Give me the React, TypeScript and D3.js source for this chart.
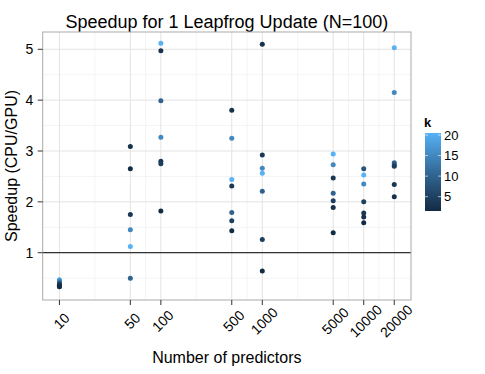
import React from 'react'
import * as d3 from 'd3'

// predictors (x) and one entry per k value
const predictors = [10, 50, 100, 500, 1000, 5000, 10000, 20000]
const kValues = [
  [20, 15, 10, 5, 4, 3, 2],
  [3, 2, 4, 15, 20, 10],
  [20, 3, 10, 15, 4, 5, 2],
  [3, 15, 20, 4, 10, 5, 2],
  [3, 4, 15, 20, 10, 5, 2],
  [20, 15, 4, 10, 5, 3, 2],
  [8, 20, 15, 5, 4, 3, 2],
  [20, 15, 10, 8, 5, 4, 3],
]
const speedups = [
  [0.47, 0.45, 0.41, 0.38, 0.36, 0.34, 0.33],
  [3.09, 2.65, 1.75, 1.45, 1.12, 0.5],
  [5.12, 4.97, 3.99, 3.27, 2.8, 2.75, 1.82],
  [3.8, 3.25, 2.44, 2.31, 1.79, 1.63, 1.43],
  [5.1, 2.92, 2.66, 2.56, 2.21, 1.26, 0.64],
  [2.94, 2.73, 2.47, 2.17, 2.02, 1.89, 1.39],
  [2.65, 2.53, 2.35, 2.0, 1.78, 1.7, 1.59],
  [5.03, 4.15, 2.77, 2.73, 2.7, 2.34, 2.1],
]
const yTicks = [1, 2, 3, 4, 5]
const yMinor = [0.5, 1.5, 2.5, 3.5, 4.5]
const legendTicks = [5, 10, 15, 20]
const yDomain = [0.07, 5.34]

const font = "'Liberation Sans', Arial, Helvetica, sans-serif"

export default function App() {
  const left = 42.7, right = 411, top = 32, bottom = 300

  // log x scale, ggplot 5% expansion of the log range
  const lx = [Math.log10(d3.min(predictors)!), Math.log10(d3.max(predictors)!)]
  const pad = (lx[1] - lx[0]) * 0.05
  const x = d3.scaleLog().domain([10 ** (lx[0] - pad), 10 ** (lx[1] + pad)]).range([left, right])
  const y = d3.scaleLinear().domain(yDomain).range([bottom, top])

  const color = d3.scaleLinear<string>().domain([2, 20]).range(['#132B43', '#56B1F7']).interpolate(d3.interpolateLab)

  const xMinor = d3.pairs(predictors).map(([a, b]) => Math.sqrt(a * b))

  const points = predictors.flatMap((p, i) =>
    speedups[i].map((v, j) => ({ p, v, k: kValues[i][j] }))
  )

  // legend
  const barX = 425, barW = 16, barTop = 133, barBot = 211
  const ly = d3.scaleLinear().domain([2, 20]).range([barBot - 2, barTop + 2])
  const stops = d3.range(0, 1.0001, 0.1)

  return (
    <svg width={485} height={374} style={{ position: 'absolute', left: 0, top: 0 }} fontFamily={font}>
      <rect width={485} height={374} fill="white" />
      <text x={(left + right) / 2} y={28} textAnchor="middle" fontSize={18}>
        Speedup for 1 Leapfrog Update (N=100)
      </text>

      <g>
        {xMinor.map(d => (
          <line key={'xm' + d} x1={x(d)} x2={x(d)} y1={top} y2={bottom} stroke="#f4f4f4" />
        ))}
        {yMinor.map(d => (
          <line key={'ym' + d} x1={left} x2={right} y1={y(d)} y2={y(d)} stroke="#f4f4f4" />
        ))}
        {predictors.map(d => (
          <line key={'xg' + d} x1={x(d)} x2={x(d)} y1={top} y2={bottom} stroke="#e3e3e3" />
        ))}
        {yTicks.map(d => (
          <line key={'yg' + d} x1={left} x2={right} y1={y(d)} y2={y(d)} stroke="#e3e3e3" />
        ))}
        <line x1={left} x2={right} y1={y(1)} y2={y(1)} stroke="#333" strokeWidth={1.2} />
        {points.map((d, i) => (
          <circle key={i} cx={x(d.p)} cy={y(d.v)} r={2.5} fill={color(d.k)} />
        ))}
        <rect x={left} y={top} width={right - left} height={bottom - top} fill="none" stroke="#aaa" />
      </g>

      {yTicks.map(d => (
        <g key={'yt' + d}>
          <line x1={left - 5} x2={left} y1={y(d)} y2={y(d)} stroke="#333" />
          <text x={left - 9.5} y={y(d)} dy="0.36em" textAnchor="end" fontSize={14}>{d}</text>
        </g>
      ))}
      {predictors.map(d => (
        <g key={'xt' + d}>
          <line x1={x(d)} x2={x(d)} y1={bottom} y2={bottom + 5} stroke="#333" />
          <text
            transform={`translate(${x(d) + 2},${bottom + 21}) rotate(-45)`}
            textAnchor="middle"
            dy="0.35em"
            fontSize={14}
          >
            {d}
          </text>
        </g>
      ))}

      <text x={(left + right) / 2} y={363} textAnchor="middle" fontSize={16}>Number of predictors</text>
      <text transform={`translate(17,${(top + bottom) / 2}) rotate(-90)`} textAnchor="middle" fontSize={16}>
        Speedup (CPU/GPU)
      </text>

      <defs>
        <linearGradient id="kgrad" x1="0" y1="1" x2="0" y2="0">
          {stops.map(s => (
            <stop key={s} offset={s} stopColor={color(2 + s * 18)} />
          ))}
        </linearGradient>
      </defs>
      <text x={barX - 1} y={127} fontSize={13} fontWeight="bold">k</text>
      <rect x={barX} y={barTop} width={barW} height={barBot - barTop} fill="url(#kgrad)" />
      {legendTicks.map(d => (
        <g key={'lt' + d}>
          <line x1={barX} x2={barX + 3} y1={ly(d)} y2={ly(d)} stroke="white" strokeOpacity={0.6} />
          <line x1={barX + barW - 3} x2={barX + barW} y1={ly(d)} y2={ly(d)} stroke="white" strokeOpacity={0.6} />
          <text x={barX + barW + 3} y={ly(d)} dy="0.36em" fontSize={13}>{d}</text>
        </g>
      ))}
    </svg>
  )
}
